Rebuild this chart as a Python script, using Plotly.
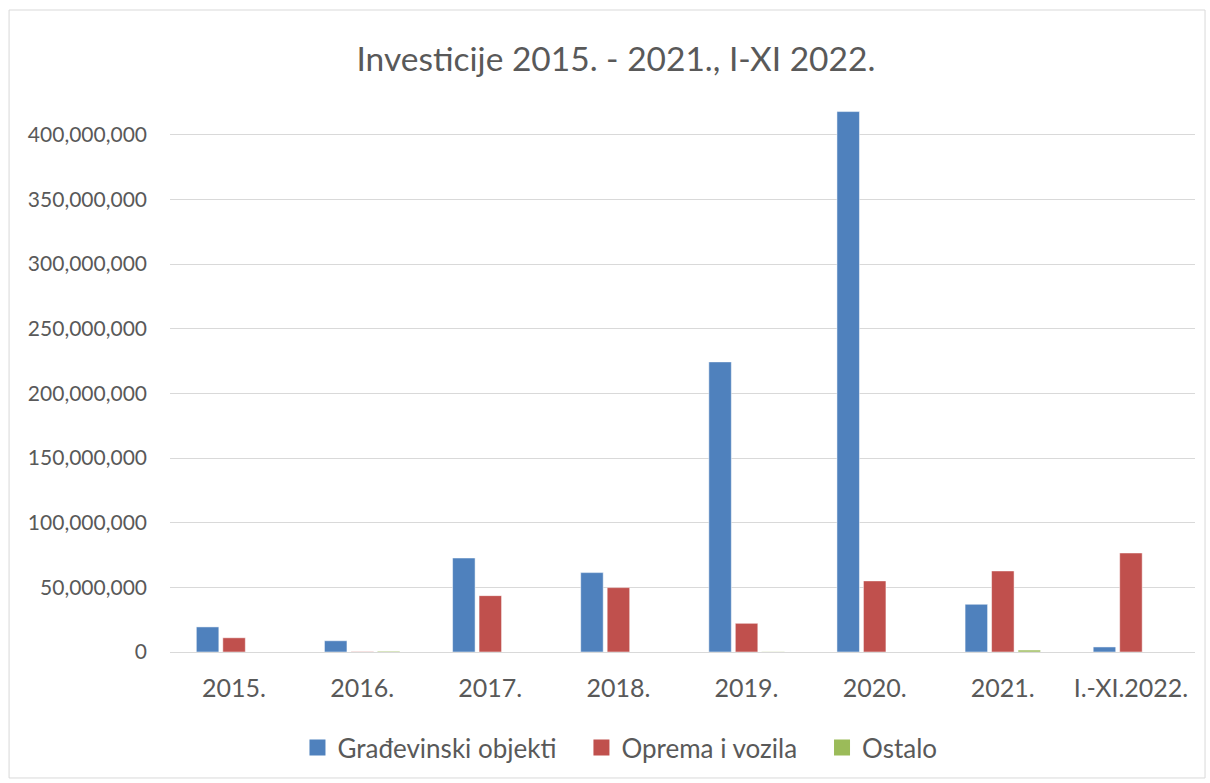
import plotly.graph_objects as go

categories = ["2015.", "2016.", "2017.", "2018.", "2019.", "2020.", "2021.", "I.-XI.2022."]
gradjevinski = [19.4e6, 8.7e6, 72.7e6, 61.4e6, 224.4e6, 418.0e6, 36.9e6, 3.9e6]
oprema = [11.0e6, 0.3e6, 43.6e6, 49.8e6, 22.2e6, 55.0e6, 62.7e6, 76.6e6]
ostalo = [0.0, 0.6e6, 0.0, 0.0, 0.2e6, 0.0, 1.5e6, 0.0]
series_names = ["Građevinski objekti", "Oprema i vozila", "Ostalo"]
colors = ["#4F81BD", "#C0504D", "#9BBB59"]
tick_vals = [0, 50e6, 100e6, 150e6, 200e6, 250e6, 300e6, 350e6, 400e6]
tick_text = ["0", "50,000,000", "100,000,000", "150,000,000", "200,000,000",
             "250,000,000", "300,000,000", "350,000,000", "400,000,000"]

FONT = "Lato"
TXT = "#595959"
PAD = "\u00a0" * 3
fig = go.Figure()
for name, vals, col in zip(series_names, [gradjevinski, oprema, ostalo], colors):
    fig.add_trace(go.Bar(x=categories, y=vals, name=name, showlegend=False,
                         marker=dict(color=col, line=dict(color="white", width=0.5))))
# legend entries with larger square swatches
for i, (name, col) in enumerate(zip(series_names, colors)):
    label = name + (PAD if i < len(series_names) - 1 else "")
    fig.add_trace(go.Scatter(x=[None], y=[None], mode="markers", name=label,
                             marker=dict(symbol="square", size=16, color=col)))

fig.update_layout(
    width=1210, height=783,
    paper_bgcolor="white", plot_bgcolor="white",
    margin=dict(l=170, r=15, t=109, b=131),
    barmode="group", bargap=0.38, bargroupgap=0.15,
    title=dict(text="Investicije 2015. - 2021., I-XI 2022.", x=0.509, xanchor="center",
               y=0.924, yanchor="middle",
               font=dict(family=FONT, size=33.5, color=TXT)),
    font=dict(family=FONT, size=21, color=TXT),
    legend=dict(orientation="h", x=0.439, xanchor="center", y=-0.176, yanchor="middle",
                font=dict(family=FONT, size=26, color=TXT), traceorder="normal",
                itemsizing="trace", itemwidth=30),
    showlegend=True,
)
fig.update_yaxes(range=[0, 420e6], tickvals=tick_vals, ticktext=tick_text,
                 showgrid=True, gridcolor="#D9D9D9", gridwidth=1,
                 zeroline=True, zerolinecolor="#D9D9D9", zerolinewidth=1,
                 showline=False, ticks="", ticklabelstandoff=22,
                 tickfont=dict(family=FONT, size=21, color=TXT))
fig.update_xaxes(showgrid=False, showline=False, ticks="",
                 tickfont=dict(family=FONT, size=25, color=TXT), ticklabelstandoff=19)

fig.add_shape(type="rect", xref="paper", yref="paper",
              x0=-0.157, x1=1.0098, y0=-0.232, y1=1.1823,
              line=dict(color="#D9D9D9", width=1), fillcolor="rgba(0,0,0,0)")

fig.write_html("out.html", config={"displayModeBar": False},
               post_script="document.body.style.margin='0';document.body.style.padding='0';")
